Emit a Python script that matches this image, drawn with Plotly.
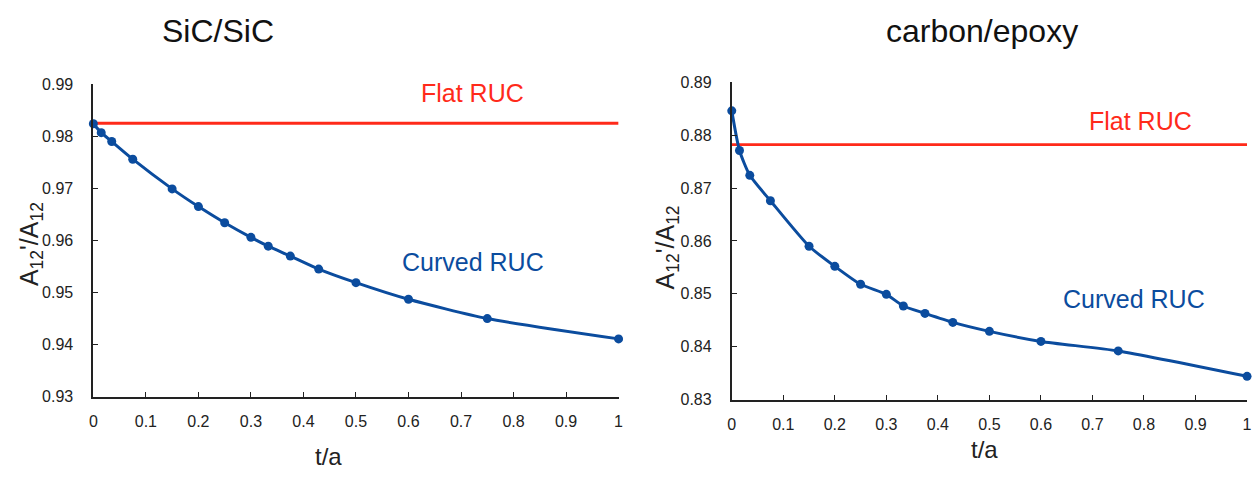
import plotly.graph_objects as go

# ---- data ----
t_a = [0, 0.015, 0.035, 0.075, 0.15, 0.2, 0.25, 0.3, 0.333, 0.375, 0.429, 0.5, 0.6, 0.75, 1.0]
sic_curved = [0.9824, 0.9807, 0.9790, 0.9756, 0.9699, 0.9665, 0.9634, 0.9606, 0.9589, 0.9570,
              0.9545, 0.9519, 0.9487, 0.9450, 0.9411]
sic_flat = 0.9825
ce_curved = [0.8846, 0.8771, 0.8724, 0.8676, 0.8590, 0.8552, 0.8518, 0.8499, 0.8477, 0.8463,
             0.8446, 0.8429, 0.8410, 0.8392, 0.8344]
ce_flat = 0.8782
flat_x = [0, 1]
x_ticks = [0, 0.1, 0.2, 0.3, 0.4, 0.5, 0.6, 0.7, 0.8, 0.9, 1]
sic_yticks = [0.93, 0.94, 0.95, 0.96, 0.97, 0.98, 0.99]
ce_yticks = [0.83, 0.84, 0.85, 0.86, 0.87, 0.88, 0.89]

BLUE = "#0b4c9e"
RED = "#ff2a1a"
AX = "#222222"
FONT = "Liberation Sans, Arial, sans-serif"
W, H = 1260, 479

fig = go.Figure()

# left panel
fig.add_trace(go.Scatter(x=flat_x, y=[sic_flat, sic_flat], mode="lines",
                         line=dict(color=RED, width=2.8), xaxis="x", yaxis="y",
                         showlegend=False, cliponaxis=False))
fig.add_trace(go.Scatter(x=t_a, y=sic_curved, mode="lines+markers",
                         line=dict(color=BLUE, width=3, shape="spline", smoothing=0.6),
                         marker=dict(color=BLUE, size=9), xaxis="x", yaxis="y",
                         showlegend=False, cliponaxis=False))
# right panel
fig.add_trace(go.Scatter(x=flat_x, y=[ce_flat, ce_flat], mode="lines",
                         line=dict(color=RED, width=2.8), xaxis="x2", yaxis="y2",
                         showlegend=False, cliponaxis=False))
fig.add_trace(go.Scatter(x=t_a, y=ce_curved, mode="lines+markers",
                         line=dict(color=BLUE, width=3, shape="spline", smoothing=0.6),
                         marker=dict(color=BLUE, size=9), xaxis="x2", yaxis="y2",
                         showlegend=False, cliponaxis=False))

xcommon = dict(range=[0, 1], tickvals=x_ticks, ticks="inside", ticklen=5, tickwidth=1.4,
               tickcolor=AX, showline=True, linecolor=AX, linewidth=1.8, showgrid=False,
               zeroline=False, tickfont=dict(family=FONT, size=16, color=AX),
               ticklabelstandoff=9)
ycommon = dict(ticks="inside", ticklen=5, tickwidth=1.4, tickcolor=AX, showline=True,
               linecolor=AX, linewidth=1.8, showgrid=False, zeroline=False,
               tickfont=dict(family=FONT, size=16, color=AX), ticklabelstandoff=15)


def px(x, y):
    return dict(x=x / W, y=1 - y / H, xref="paper", yref="paper", showarrow=False,
                xanchor="center", yanchor="middle")


ytitle = "A<sub>12</sub>'/A<sub>12</sub>"
fig.update_layout(
    width=W, height=H,
    margin=dict(l=0, r=0, t=0, b=0),
    paper_bgcolor="white", plot_bgcolor="white",
    xaxis=dict(domain=[90 / W, 619 / W], anchor="y", **xcommon),
    yaxis=dict(domain=[1 - 403 / H, 1 - 79 / H], anchor="x", range=[0.93, 0.99],
               tickvals=sic_yticks, tickformat=".2f", **ycommon),
    xaxis2=dict(domain=[733 / W, 1252 / W], anchor="y2", **xcommon),
    yaxis2=dict(domain=[1 - 406 / H, 1 - 77 / H], anchor="x2", range=[0.83, 0.89],
                tickvals=ce_yticks, tickformat=".2f", **ycommon),
    annotations=[
        dict(text="SiC/SiC", font=dict(family=FONT, size=32, color="#111111"), **px(216, 24)),
        dict(text="carbon/epoxy", font=dict(family=FONT, size=32, color="#111111"), **px(985, 24)),
        dict(text="t/a", font=dict(family=FONT, size=24, color=AX), **px(327, 465)),
        dict(text="t/a", font=dict(family=FONT, size=24, color=AX), **px(988, 458)),
        dict(text=ytitle, textangle=-90, font=dict(family=FONT, size=25, color=AX), **px(27, 245)),
        dict(text=ytitle, textangle=-90, font=dict(family=FONT, size=25, color=AX), **px(668, 248)),
        dict(text="Flat RUC", font=dict(family=FONT, size=25, color=RED), **px(472, 88)),
        dict(text="Curved RUC", font=dict(family=FONT, size=25, color=BLUE), **px(472, 263)),
        dict(text="Flat RUC", font=dict(family=FONT, size=25, color=RED), **px(1145, 117)),
        dict(text="Curved RUC", font=dict(family=FONT, size=25, color=BLUE), **px(1138, 302)),
    ],
)

fig.write_html("out.html")
